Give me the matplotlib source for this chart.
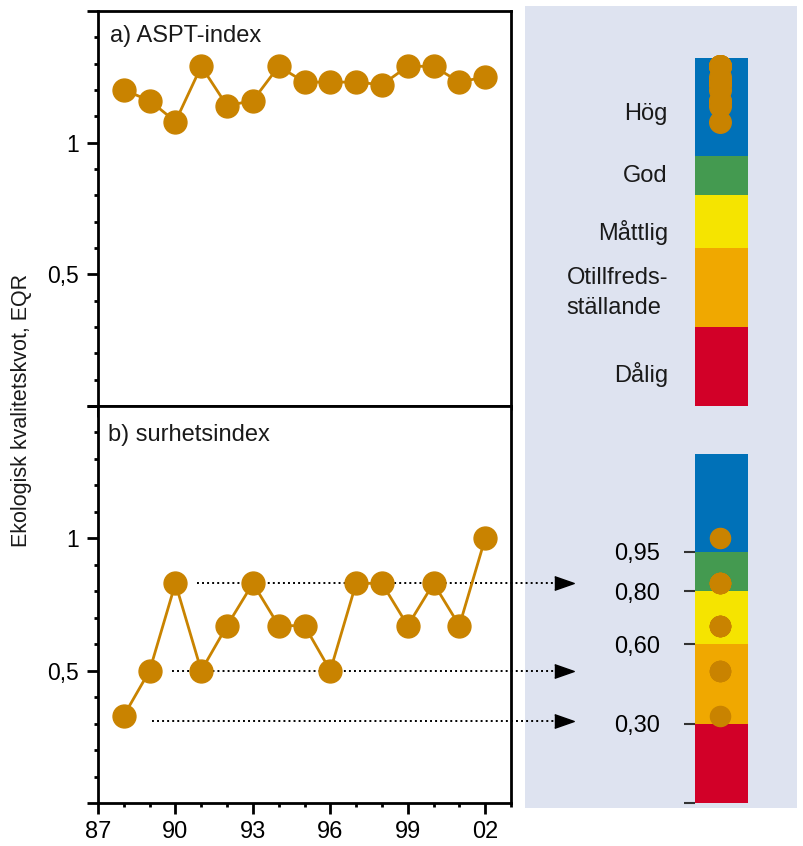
import matplotlib
matplotlib.use('Agg')
import matplotlib.pyplot as plt
from matplotlib.patches import Rectangle
from matplotlib.ticker import FixedLocator, FixedFormatter, MultipleLocator

plt.rcParams['font.family'] = ['Liberation Sans', 'DejaVu Sans']

# data
years = [1988, 1989, 1990, 1991, 1992, 1993, 1994, 1995,
         1996, 1997, 1998, 1999, 2000, 2001, 2002]
aspt = [1.20, 1.16, 1.08, 1.29, 1.14, 1.16, 1.29, 1.23,
        1.23, 1.23, 1.22, 1.29, 1.29, 1.23, 1.25]
surhet = [0.33, 0.50, 0.83, 0.50, 0.67, 0.83, 0.67, 0.67,
          0.50, 0.83, 0.83, 0.67, 0.83, 0.67, 1.00]
year_ticks = [1987, 1990, 1993, 1996, 1999, 2002]
year_labels = ['87', '90', '93', '96', '99', '02']

class_bounds = [0.0, 0.30, 0.60, 0.80, 0.95, 1.32]
class_colors = ['#d20028', '#f0a800', '#f5e400', '#449a50', '#0071b8']
class_names = ['Dålig', 'Otillfreds-\nställande', 'Måttlig', 'God', 'Hög']
class_label_y = [0.12, 0.43, 0.66, 0.875, 1.11]
bound_ticks = [0.0, 0.30, 0.60, 0.80, 0.95]
bound_labels = ['', '0,30', '0,60', '0,80', '0,95']

# dotted arrows in panel b: (level, start year)
arrow_levels = [0.83, 0.50, 0.31]
arrow_starts = [1990.85, 1989.85, 1989.1]
arrow_end = 2005.4

dot_col = '#c98300'
W, H = 804, 846

fig = plt.figure(figsize=(W / 100, H / 100), dpi=100)
fig.patch.set_facecolor('white')

# light panel behind the class bars
fig.patches.append(Rectangle((525 / W, 1 - 808 / H), 272 / W, 802 / H,
                             transform=fig.transFigure, facecolor='#dee3f0',
                             edgecolor='none', zorder=-5))

ax_l, ax_w = 98 / W, 413 / W
top_a = [ax_l, 1 - 406 / H, ax_w, 395 / H]
bot_a = [ax_l, 1 - 803 / H, ax_w, 397 / H]
ax1 = fig.add_axes(top_a)
ax2 = fig.add_axes(bot_a)

for ax, vals in [(ax1, aspt), (ax2, surhet)]:
    ax.plot(years, vals, '-o', color=dot_col, lw=2, ms=16.5, zorder=3)
    ax.set_xlim(1987, 2003)
    ax.set_ylim(0, 1.5)
    for s in ax.spines.values():
        s.set_linewidth(2)
    ax.yaxis.set_major_locator(FixedLocator([0, 0.5, 1, 1.5]))
    ax.yaxis.set_major_formatter(FixedFormatter(['', '0,5', '1', '']))
    ax.yaxis.set_minor_locator(MultipleLocator(0.1))
    ax.xaxis.set_major_locator(FixedLocator(year_ticks))
    ax.xaxis.set_minor_locator(MultipleLocator(1))
    ax.tick_params(which='major', direction='out', length=8, width=2,
                   labelsize=16.5, pad=6)
    ax.tick_params(which='minor', direction='out', length=3, width=2)

ax1.tick_params(axis='x', labelbottom=False)
ax2.set_xticklabels(year_labels)
ax2.tick_params(axis='x', labelsize=17, pad=5)

ax1.text(0.03, 0.965, 'a) ASPT-index', transform=ax1.transAxes,
         fontsize=17, va='top', ha='left', color='#1a1a1a')
ax2.text(0.025, 0.955, 'b) surhetsindex', transform=ax2.transAxes,
         fontsize=17, va='top', ha='left', color='#1a1a1a')

fig.text(22 / W, 1 - 410 / H, 'Ekologisk kvalitetskvot, EQR', rotation=90,
         fontsize=15.5, ha='center', va='center', color='#1a1a1a')

# dotted arrows towards class bar
for lev, x0 in zip(arrow_levels, arrow_starts):
    ax2.plot([x0, arrow_end - 0.3], [lev, lev], color='k', lw=1.4,
             linestyle=(0, (1, 1.6)), clip_on=False, zorder=2)
    ax2.plot(arrow_end - 0.35, lev, marker=[(-1, -0.7), (1, 0), (-1, 0.7)],
             color='k', ms=14, clip_on=False, zorder=2)

# class bars
bar_l, bar_w = 695 / W, 53 / W
for pos, vals, labels_side in [(top_a, aspt, True), (bot_a, surhet, False)]:
    bx = fig.add_axes([bar_l, pos[1], bar_w, pos[3]])
    bx.set_xlim(0, 1)
    bx.set_ylim(0, 1.5)
    bx.patch.set_visible(False)
    for s in bx.spines.values():
        s.set_visible(False)
    lows = class_bounds[:-1]
    heights = [b - a for a, b in zip(class_bounds[:-1], class_bounds[1:])]
    bx.bar([0.5] * 5, heights, bottom=lows, width=1, color=class_colors,
           edgecolor='none', zorder=1)
    ms = 15.5 if labels_side else 14.5
    bx.plot([0.48] * len(vals), vals, 'o', color=dot_col, ms=ms, zorder=3,
            clip_on=False)
    bx.set_xticks([])
    if labels_side:
        bx.set_yticks([])
        for name, ly in zip(class_names, class_label_y):
            bx.text(-0.51, ly, name, fontsize=17, ha='right', va='center',
                    ma='left', linespacing=1.45, color='#1a1a1a')
    else:
        bx.set_yticks(bound_ticks)
        bx.set_yticklabels(bound_labels)
        bx.tick_params(axis='y', direction='out', length=8, width=1.5,
                       color='#333333', labelsize=17, pad=17)

fig.savefig('out.png', dpi=100)
